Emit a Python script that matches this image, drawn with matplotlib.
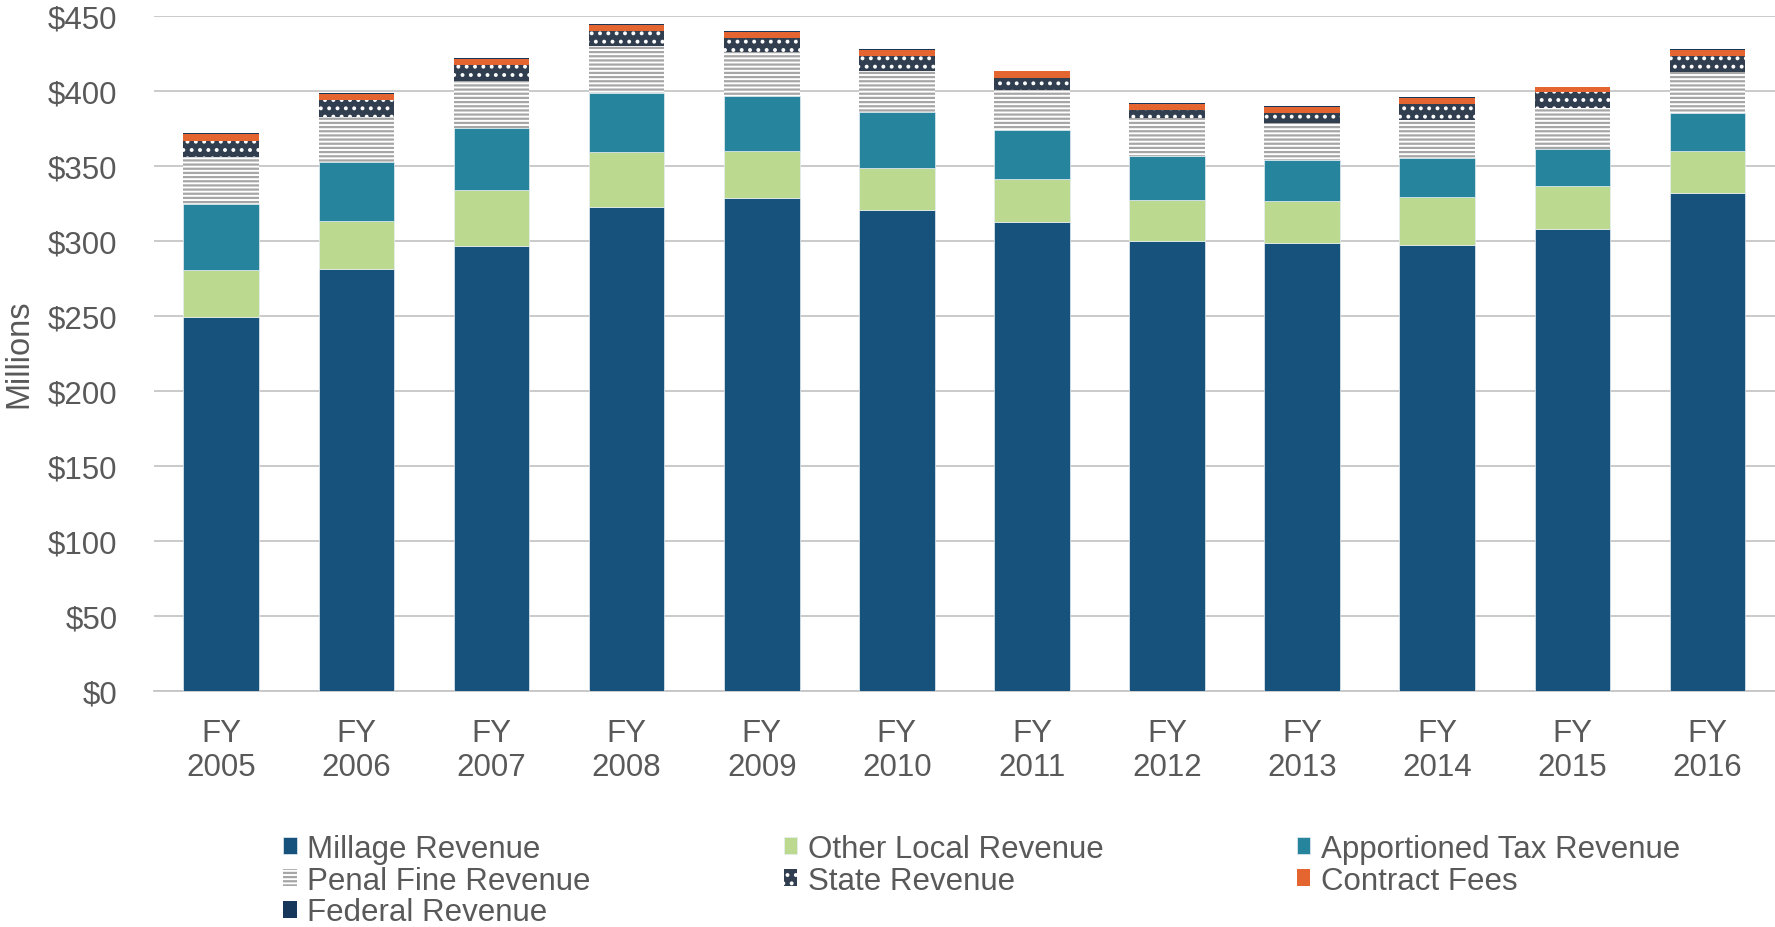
import numpy as np
import matplotlib
matplotlib.use("Agg")
import matplotlib.pyplot as plt

plt.rcParams['font.family'] = ['Liberation Sans', 'DejaVu Sans']
plt.rcParams['hatch.linewidth'] = 1.6

years = ["FY\n2005", "FY\n2006", "FY\n2007", "FY\n2008", "FY\n2009", "FY\n2010",
         "FY\n2011", "FY\n2012", "FY\n2013", "FY\n2014", "FY\n2015", "FY\n2016"]

# values in $ millions
millage = [248.9, 281.1, 296.7, 322.3, 328.5, 320.7, 312.7, 299.8, 298.7, 297.3, 307.8, 331.6]
other_local = [31.4, 31.8, 37.3, 36.9, 31.1, 28.0, 28.4, 27.1, 27.8, 32.0, 28.5, 28.2]
apportioned = [44.1, 39.4, 40.9, 39.5, 36.7, 37.1, 32.7, 29.8, 27.5, 25.6, 24.8, 25.1]
penal = [31.2, 30.4, 31.8, 31.3, 29.3, 27.1, 26.9, 24.9, 24.4, 25.3, 27.4, 27.4]
state = [11.1, 11.1, 10.4, 9.8, 9.3, 10.0, 8.0, 5.5, 6.9, 11.1, 10.4, 11.0]
contract = [4.3, 3.9, 4.2, 4.1, 4.4, 4.3, 4.2, 4.1, 3.7, 3.7, 3.5, 4.0]
federal = [0.6, 0.6, 0.3, 0.3, 0.3, 0.6, 0.4, 0.6, 0.6, 0.6, 0.3, 0.3]

series = [
    ("Millage Revenue", millage, dict(color="#17527C", edgecolor="#e6edf2", linewidth=0.5)),
    ("Other Local Revenue", other_local, dict(color="#BBDA90", edgecolor="#e6edf2", linewidth=0.5)),
    ("Apportioned Tax Revenue", apportioned, dict(color="#26849C", edgecolor="#e6edf2", linewidth=0.5)),
    ("Penal Fine Revenue", penal, dict(color="white", hatch="----", hc="#A6A6A6")),
    ("State Revenue", state, dict(color="#313E4F", hatch="..", hc="white")),
    ("Contract Fees", contract, dict(color="#E46530")),
    ("Federal Revenue", federal, dict(color="#17375A")),
]

fig = plt.figure(figsize=(17.75, 9.28), dpi=100)
ax = fig.add_axes([0.0866, 0.2546, 0.9134, 0.7274])

x = np.arange(len(years))
bottom = np.zeros(len(years))
handles = {}
for name, vals, style in series:
    style = dict(style)
    hc = style.pop("hc", None)
    with plt.rc_context({'hatch.color': hc if hc else 'black'}):
        bars = ax.bar(x, vals, 0.56, bottom=bottom, label=name, zorder=3, **style)
    handles[name] = bars
    bottom += np.array(vals)

ax.set_ylim(0, 450)
ax.set_xlim(-0.5, len(years) - 0.5)
ax.set_yticks(np.arange(0, 451, 50))
ax.set_yticklabels([f"${v}" for v in range(0, 451, 50)])
ax.set_xticks(x)
ax.set_xticklabels(years, linespacing=1.2)
ax.yaxis.grid(True, color="#C6C6C6", linewidth=1.3, zorder=0)
ax.set_axisbelow(True)
for s in ["top", "right", "left"]:
    ax.spines[s].set_visible(False)
ax.spines["bottom"].set_color("#C6C6C6")
ax.spines["bottom"].set_linewidth(1.3)
ax.tick_params(axis="y", length=0, pad=26, labelsize=22.5, labelcolor="#595959")
ax.tick_params(axis="x", length=0, pad=19.5, labelsize=22.5, labelcolor="#595959")
ax.set_ylabel("Millions", fontsize=23.5, color="#595959", labelpad=10)

order = ["Millage Revenue", "Penal Fine Revenue", "Federal Revenue",
         "Other Local Revenue", "State Revenue",
         "Apportioned Tax Revenue", "Contract Fees"]
leg = fig.legend([handles[n] for n in order], order, loc="upper left",
                 bbox_to_anchor=(0.1594, 0.1005), ncol=3, frameon=False,
                 fontsize=22.5, handlelength=0.44, handleheight=0.44,
                 handletextpad=0.33, columnspacing=6.18, labelspacing=0.06,
                 borderpad=0, borderaxespad=0)
for t in leg.get_texts():
    t.set_color("#595959")

fig.savefig("out.png", dpi=100)
